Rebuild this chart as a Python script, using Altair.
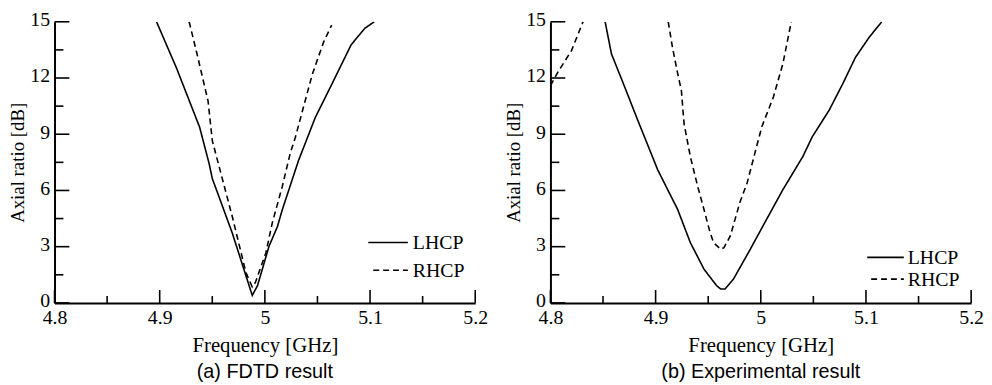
import altair as alt
import pandas as pd

# ---------------- data ----------------
# (a) FDTD result
a_lhcp_f = [4.897, 4.916, 4.938, 4.947, 4.950, 4.969, 4.988, 4.993, 5.004, 5.012, 5.0165, 5.032, 5.048, 5.0635, 5.082, 5.095, 5.104]
a_lhcp_v = [15.0, 12.53, 9.37, 7.43, 6.64, 3.73, 0.40, 0.92, 3.03, 4.08, 4.96, 7.60, 9.90, 11.65, 13.77, 14.65, 15.0]
a_rhcp_f = [4.928, 4.935, 4.946, 4.950, 4.969, 4.982, 4.988, 4.991, 5.001, 5.007, 5.0165, 5.024, 5.029, 5.045, 5.056, 5.0635]
a_rhcp_v = [15.0, 13.4, 10.77, 8.66, 4.61, 1.62, 0.85, 1.09, 2.68, 4.26, 6.20, 7.96, 8.84, 12.18, 13.94, 14.82]
a_rhcp_seg = [0] * len(a_rhcp_f)

# (b) Experimental result
b_lhcp_f = [4.852, 4.858, 4.8706, 4.883, 4.902, 4.921, 4.933, 4.946, 4.958, 4.962, 4.966, 4.974, 4.990, 5.002, 5.021, 5.040, 5.049, 5.065, 5.078, 5.090, 5.103, 5.115]
b_lhcp_v = [15.0, 13.29, 11.52, 9.75, 7.10, 4.98, 3.22, 1.80, 0.92, 0.74, 0.74, 1.27, 2.86, 4.10, 6.04, 7.81, 8.87, 10.28, 11.70, 13.10, 14.17, 15.0]
b_rhcp_f = [4.800, 4.808, 4.820, 4.831,
            4.912, 4.916, 4.921, 4.9245, 4.927, 4.933, 4.940, 4.946, 4.951, 4.955, 4.962, 4.965, 4.971, 4.980, 4.987, 4.996, 5.001, 5.012, 5.021, 5.029]
b_rhcp_v = [11.6, 12.4, 13.46, 15.0,
            15.0, 13.64, 12.23, 11.34, 9.58, 7.81, 6.22, 4.98, 3.92, 3.22, 2.86, 2.95, 3.57, 5.34, 6.40, 8.34, 9.40, 10.99, 12.76, 15.0]
b_rhcp_seg = [0, 0, 0, 0] + [1] * 20

SERIES = ["LHCP", "RHCP"]
DASHES = [[1, 0], [6, 4]]
X_MAJOR = [4.8, 4.9, 5.0, 5.1, 5.2]
X_MINOR = [4.85, 4.95, 5.05, 5.15]
Y_MAJOR = [0, 3, 6, 9, 12, 15]
Y_MINOR = [1.5, 4.5, 7.5, 10.5, 13.5]
CAPTIONS = ["(a) FDTD result", "(b) Experimental result"]

W, H = 425, 284
SERIF = "Liberation Serif"
SANS = "Liberation Sans"


def frame(lf, lv, rf, rv, rseg):
    rows = []
    for i, (f, v) in enumerate(zip(lf, lv)):
        rows.append({"f": f, "ar": v, "series": "LHCP", "seg": "L", "i": i})
    for i, (f, v, s) in enumerate(zip(rf, rv, rseg)):
        rows.append({"f": f, "ar": v, "series": "RHCP", "seg": "R%d" % s, "i": i})
    return pd.DataFrame(rows)


def legend_layers(entries):
    """entries: list of (series, x_start, x_end, y, text_x)"""
    layers = []
    for (name, x0, x1, y, tx), dash in zip(entries, DASHES):
        d = pd.DataFrame({"series": [name]})
        layers.append(alt.Chart(d).mark_rule(color="black", strokeWidth=1.6, strokeDash=dash).encode(
            x=alt.value(x0), x2=alt.value(x1), y=alt.value(y)))
        layers.append(alt.Chart(d).mark_text(font=SERIF, fontSize=20, color="black",
                                             align="left", baseline="middle").encode(
            x=alt.value(tx), y=alt.value(y + 1), text="series:N"))
    return layers


def panel(df, caption, entries):
    xs = alt.Scale(domain=[4.8, 5.2], nice=False, zero=False)
    ys = alt.Scale(domain=[0, 15], nice=False, zero=False)
    xax = alt.Axis(title="Frequency [GHz]", values=X_MAJOR, format=".1~f", ticks=False,
                   labelPadding=5, titlePadding=7, labelFlush=False, titleFontSize=21)
    yax = alt.Axis(title="Axial ratio [dB]", values=Y_MAJOR, ticks=False,
                   labelPadding=5, titlePadding=2, titleFontSize=19, labelOffset=-2)

    lines = alt.Chart(df).mark_line(strokeWidth=1.6, color="black", clip=True).encode(
        x=alt.X("f:Q", scale=xs, axis=xax),
        y=alt.Y("ar:Q", scale=ys, axis=yax),
        strokeDash=alt.StrokeDash("series:N", scale=alt.Scale(domain=SERIES, range=DASHES), legend=None),
        detail="seg:N",
        order="i:Q",
    )

    xmaj = alt.Chart(pd.DataFrame({"v": X_MAJOR})).mark_rule(color="black", strokeWidth=1.6).encode(
        x=alt.X("v:Q", scale=xs, axis=xax), y=alt.value(H), y2=alt.value(H - 13))
    xmin = alt.Chart(pd.DataFrame({"v": X_MINOR})).mark_rule(color="black", strokeWidth=1.6).encode(
        x=alt.X("v:Q", scale=xs, axis=xax), y=alt.value(H), y2=alt.value(H - 7))
    ymaj = alt.Chart(pd.DataFrame({"v": Y_MAJOR})).mark_rule(color="black", strokeWidth=1.6).encode(
        y=alt.Y("v:Q", scale=ys, axis=yax), x=alt.value(0), x2=alt.value(15))
    ymin = alt.Chart(pd.DataFrame({"v": Y_MINOR})).mark_rule(color="black", strokeWidth=1.6).encode(
        y=alt.Y("v:Q", scale=ys, axis=yax), x=alt.value(0), x2=alt.value(9))

    return alt.layer(lines, xmaj, xmin, ymaj, ymin, *legend_layers(entries)).properties(
        width=W, height=H,
        title=alt.TitleParams(caption, orient="bottom", anchor="middle", font=SANS,
                              fontSize=20, fontWeight="normal", color="black", offset=7),
    )


left = panel(frame(a_lhcp_f, a_lhcp_v, a_rhcp_f, a_rhcp_v, a_rhcp_seg), CAPTIONS[0],
             [("LHCP", 317, 357, 223, 362), ("RHCP", 322, 357, 251, 362)])
right = panel(frame(b_lhcp_f, b_lhcp_v, b_rhcp_f, b_rhcp_v, b_rhcp_seg), CAPTIONS[1],
              [("LHCP", 320, 357, 238, 361), ("RHCP", 324, 357, 260, 361)])

chart = alt.hconcat(left, right, spacing=76, bounds="flush").resolve_scale(
    strokeDash="independent"
).configure(
    padding={"left": 1, "top": 0, "right": 0, "bottom": 0},
    background="white",
).configure_view(stroke=None).configure_axis(
    domainColor="black", domainWidth=2, grid=False,
    labelFont=SERIF, labelFontSize=20, labelColor="black",
    titleFont=SERIF, titleFontWeight="normal", titleColor="black",
)

chart.save("out.html", embed_options={"renderer": "svg", "actions": False})
